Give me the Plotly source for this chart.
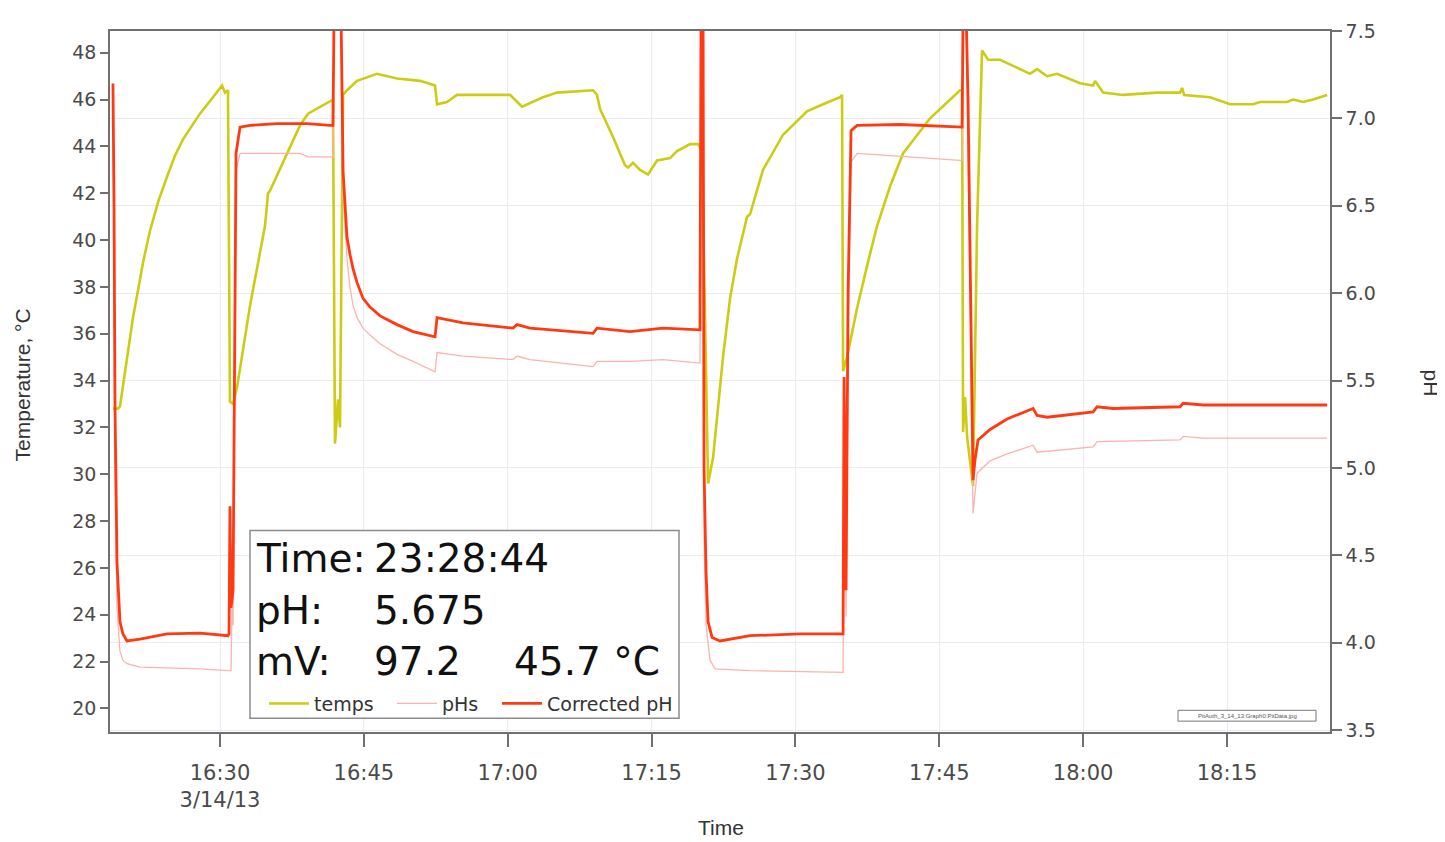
import pandas as pd
import plotly.graph_objects as go

# ---------------- data (minutes after 16:30 on 3/14/13) ----------------
base_time = "2013-03-14 16:30:00"

temps_min = [-11.16, -10.64, -10.43, -9.70, -9.07, -8.66, -8.00, -7.30, -6.40, -5.53, -4.70, -3.86, -2.09, -0.73,
             0.21, 0.52, 0.83,
             1.04, 1.36, 1.77, 3.13, 4.69, 5.01, 5.21, 6.99, 8.34, 9.18, 11.47, 11.78, 11.99, 12.31, 12.51,
             12.83, 13.24, 14.29, 16.37, 18.46, 20.86, 22.42, 22.63, 23.67, 24.71, 30.24, 31.49, 33.68, 35.14,
             38.90, 39.31, 39.63, 40.98, 42.23, 42.55, 43.07, 43.80, 44.63, 45.57, 46.93, 47.66, 49.01, 49.85,
             50.26, 50.89, 51.41, 52.45, 53.18, 53.91, 54.96, 55.27, 56.62, 58.71, 61.21, 62.88, 64.65, 64.86,
             64.97, 65.38, 66.43, 67.47, 68.51, 69.87, 71.22, 74.04, 77.17, 77.38, 77.48, 77.69, 77.90, 78.52,
             78.94, 79.46, 80.09, 81.34, 84.47, 85.20, 86.24, 87.28, 89.68, 91.04, 91.24, 92.08, 94.16, 97.71,
             100.11, 100.32, 100.53, 103.24, 105.32, 107.72, 108.45, 111.27, 111.89, 112.94, 113.98, 115.44]
temps_val = [32.8, 32.8, 32.9, 35.0, 36.7, 37.6, 39.1, 40.4, 41.7, 42.7, 43.6, 44.3, 45.4, 46.1,
             46.6, 46.3, 46.4,
             33.1, 33.0, 33.7, 37.2, 40.6, 42.0, 42.1, 43.7, 44.9, 45.4, 45.9, 46.0, 31.3, 33.2, 32.0,
             46.2, 46.4, 46.8, 47.1, 46.9, 46.8, 46.6, 45.8, 45.9, 46.2, 46.2, 45.7, 46.1, 46.3,
             46.4, 46.2, 45.6, 44.4, 43.2, 43.1, 43.3, 43.0, 42.8, 43.4, 43.5, 43.8, 44.1, 44.1,
             43.8, 29.6, 30.7, 35.0, 37.5, 39.2, 41.0, 41.1, 43.0, 44.5, 45.5, 45.8, 46.1, 46.2,
             34.4, 35.0, 37.1, 38.9, 40.6, 42.3, 43.7, 45.2, 46.4, 46.4, 31.8, 33.3, 31.6, 29.5,
             40.6, 48.1, 47.7, 47.7, 47.1, 47.3, 47.0, 47.1, 46.7, 46.6, 46.8, 46.3, 46.2, 46.3,
             46.3, 46.5, 46.2, 46.1, 45.8, 45.8, 45.9, 45.9, 46.0, 45.9, 46.0, 46.2]

phs_min = [-11.16, -11.05, -10.95, -10.74, -10.43, -10.12, -9.70, -8.34, -2.09, 0.83, 1.15, 1.25, 1.36, 1.67,
           2.09, 8.34, 9.18, 11.47, 11.78, 11.89, 12.62, 12.83, 13.04, 13.24, 13.56, 13.87, 14.29, 14.91,
           15.64, 16.69, 18.46, 20.13,
           22.42, 22.63, 25.34, 30.55, 30.97, 32.33, 38.90, 39.31, 42.76, 46.20, 50.05, 50.16, 50.37, 50.47,
           50.68, 51.10, 51.62, 55.27, 64.97, 65.07, 65.28, 65.49, 65.80, 66.43, 77.17, 77.38, 77.48, 77.80,
           78.00, 78.52, 78.94, 80.30, 82.07, 84.78, 85.20, 91.04, 91.45, 100.11, 100.42, 102.50, 115.44]
phs_val = [7.15, 6.2, 5.0, 4.2, 3.95, 3.90, 3.88, 3.86, 3.85, 3.84, 3.84, 4.2, 4.1, 6.7,
           6.80, 6.80, 6.78, 6.78, 6.78, 7.6, 7.6, 6.57, 6.38, 6.2, 6.03, 5.93, 5.86, 5.80,
           5.76, 5.71, 5.65, 5.61,
           5.55, 5.66, 5.64, 5.62, 5.64, 5.62, 5.58, 5.61, 5.61, 5.62, 5.60, 7.6, 7.6, 4.6,
           4.1, 3.9, 3.85, 3.84, 3.83, 5.2, 4.15, 5.8, 6.75, 6.80, 6.76, 6.76, 7.6, 7.6,
           6.8, 4.74, 4.97, 5.04, 5.08, 5.13, 5.09, 5.12, 5.15, 5.16, 5.18, 5.17, 5.17]

corr_min = [-11.16, -11.05, -10.95, -10.74, -10.43, -10.12, -9.70, -8.34, -5.53, -2.09, 0.83, 0.94, 1.04, 1.15,
            1.36, 1.67, 2.09, 3.13, 5.94, 9.07, 11.47, 11.78, 11.89, 12.62, 12.83, 13.04, 13.24, 13.56, 13.87,
            14.29, 14.91, 15.64,
            16.69, 18.46, 20.13, 22.42, 22.63, 25.34, 30.55, 30.97, 32.33, 38.90, 39.31, 42.76, 46.20, 50.05,
            50.16, 50.37, 50.47, 50.68, 50.89, 51.31, 52.14, 55.27, 60.48, 64.97, 65.07, 65.28, 65.49, 65.80,
            66.43, 70.91, 77.38, 77.48, 77.80, 78.00, 78.52, 78.73, 79.04, 80.30, 82.07, 84.78, 85.20, 86.24,
            91.04, 91.45, 93.12, 100.11, 100.42, 102.50, 115.44]
corr_val = [7.2, 6.5, 5.36, 4.46, 4.12, 4.05, 4.01, 4.02, 4.05, 4.055, 4.04, 4.05, 4.78, 4.2,
            4.3, 6.8, 6.95, 6.96, 6.97, 6.97, 6.96, 6.96, 7.6, 7.6, 6.70, 6.48, 6.32, 6.22, 6.14,
            6.06, 5.97, 5.92,
            5.87, 5.82, 5.78, 5.75, 5.86, 5.83, 5.80, 5.82, 5.80, 5.77, 5.80, 5.78, 5.80, 5.79,
            7.6, 7.6, 5.0, 4.4, 4.12, 4.03, 4.01, 4.04, 4.05, 4.05, 5.52, 4.3, 6.0, 6.93,
            6.96, 6.965, 6.95, 7.6, 7.6, 7.1, 4.93, 5.05, 5.16, 5.22, 5.28, 5.34, 5.30, 5.29,
            5.32, 5.35, 5.34, 5.35, 5.37, 5.36, 5.36]

x_range_min = [-11.47, 115.74]
x_tick_min = [0, 15, 30, 45, 60, 75, 90, 105]
x_tick_text = ["16:30<br>3/14/13", "16:45", "17:00", "17:15", "17:30", "17:45", "18:00", "18:15"]
temp_ticks = [20, 22, 24, 26, 28, 30, 32, 34, 36, 38, 40, 42, 44, 46, 48]
ph_ticks = [3.5, 4.0, 4.5, 5.0, 5.5, 6.0, 6.5, 7.0, 7.5]
ph_tick_text = ["3.5", "4.0", "4.5", "5.0", "5.5", "6.0", "6.5", "7.0", "7.5"]
temp_range = [18.99, 48.93]
ph_range = [3.489, 7.5]

readout_labels = ["Time:", "pH:", "mV:"]
readout_values = ["23:28:44", "5.675", "97.2"]
readout_temp = "45.7 °C"

# ---------------- build ----------------
base = pd.Timestamp(base_time)
def to_t(mins):
    return base + pd.to_timedelta(pd.Series(mins, dtype=float), unit="m")

fig = go.Figure()
fig.add_trace(go.Scatter(x=to_t(temps_min), y=temps_val, name="temps", mode="lines",
                         line=dict(color="#cccc14", width=2.6), yaxis="y", legend="legend"))
fig.add_trace(go.Scatter(x=to_t(phs_min), y=phs_val, name="pHs", mode="lines",
                         line=dict(color="#f9b4ae", width=1.3), yaxis="y2", legend="legend2"))
fig.add_trace(go.Scatter(x=to_t(corr_min), y=corr_val, name="Corrected pH", mode="lines",
                         line=dict(color="#ff3a12", width=2.8), yaxis="y2", legend="legend3"))

tick_font = dict(family="DejaVu Sans", size=19, color="#4a4a4a")
axis_col = "#707070"
grid_col = "#eaeaf4"

# page body has an 8px margin: the figure is sized/offset so the plot area lands at
# x 110..1330, y 22..732 of the 1445x842 window
def px_x(px):
    return (px - 110) / 1220.0
def px_y(py):
    return (732 - py) / 710.0

leg_font = dict(family="DejaVu Sans", size=19, color="#333333")
def leg(xpx):
    return dict(orientation="h", x=px_x(xpx), y=px_y(684), xanchor="left", yanchor="top",
                bgcolor="rgba(0,0,0,0)", font=leg_font, itemwidth=40, borderwidth=0)

fig.update_layout(
    width=1437, height=834,
    margin=dict(l=102, r=115, t=14, b=110),
    paper_bgcolor="white", plot_bgcolor="white",
    showlegend=True,
    legend=leg(264), legend2=leg(392), legend3=leg(497),
    xaxis=dict(type="date", range=[to_t(x_range_min)[0], to_t(x_range_min)[1]],
               tickvals=list(to_t(x_tick_min)), ticktext=x_tick_text,
               ticks="outside", ticklen=13, tickcolor=axis_col, tickwidth=1.5,
               showline=True, linecolor=axis_col, linewidth=1.5, mirror=True,
               showgrid=True, gridcolor=grid_col, gridwidth=1,
               tickfont=dict(family="DejaVu Sans", size=21, color="#4a4a4a"),
               ticklabelstandoff=8, zeroline=False),
    yaxis=dict(range=temp_range, tickvals=temp_ticks, ticks="outside", ticklen=8,
               tickcolor=axis_col, tickwidth=1.5, showline=True, linecolor=axis_col, linewidth=1.5,
               showgrid=False, zeroline=False, tickfont=tick_font),
    yaxis2=dict(range=ph_range, tickvals=ph_ticks, ticktext=ph_tick_text, overlaying="y", side="right",
                ticks="outside", ticklen=10, tickcolor=axis_col, tickwidth=1.5,
                showline=True, linecolor=axis_col, linewidth=1.5,
                showgrid=True, gridcolor=grid_col, gridwidth=1, zeroline=False, tickfont=tick_font),
)

shapes = [
    dict(type="rect", xref="paper", yref="paper", x0=px_x(250), x1=px_x(679), y0=px_y(718), y1=px_y(528),
         line=dict(color="#8c8c8c", width=1.5), fillcolor="white", layer="above"),
    dict(type="rect", xref="paper", yref="paper", x0=px_x(1178), x1=px_x(1316), y0=px_y(721), y1=px_y(710),
         line=dict(color="#777777", width=1), fillcolor="white", layer="above"),
]
fig.update_layout(shapes=shapes)

big = dict(family="DejaVu Sans", size=39, color="#111111")
ann = []
row_y = [556, 609, 661]
for lab, val, yy in zip(readout_labels, readout_values, row_y):
    ann.append(dict(text=lab, x=px_x(254), y=px_y(yy), xref="paper", yref="paper",
                    xanchor="left", yanchor="middle", showarrow=False, font=big))
    ann.append(dict(text=val, x=px_x(372), y=px_y(yy), xref="paper", yref="paper",
                    xanchor="left", yanchor="middle", showarrow=False, font=big))
ann.append(dict(text=readout_temp, x=px_x(512), y=px_y(row_y[2]), xref="paper", yref="paper",
                xanchor="left", yanchor="middle", showarrow=False, font=big))
ann.append(dict(text="Temperature, °C", x=px_x(22), y=px_y(381), xref="paper", yref="paper",
                textangle=-90, showarrow=False, xanchor="center", yanchor="middle",
                font=dict(family="Liberation Sans", size=21, color="#333333")))
ann.append(dict(text="pH", x=px_x(1432), y=px_y(378), xref="paper", yref="paper",
                textangle=90, showarrow=False, xanchor="center", yanchor="middle",
                font=dict(family="Liberation Sans", size=21, color="#333333")))
ann.append(dict(text="Time", x=px_x(721), y=px_y(829), xref="paper", yref="paper",
                showarrow=False, xanchor="center", yanchor="middle",
                font=dict(family="Liberation Sans", size=21, color="#333333")))
ann.append(dict(text="PitAuth_3_14_13:Graph0:PitData.jpg", x=px_x(1247), y=px_y(715.5), xref="paper",
                yref="paper", showarrow=False, xanchor="center", yanchor="middle",
                font=dict(family="Liberation Sans", size=6, color="#555555")))
fig.update_layout(annotations=ann)

fig.write_html("out.html")
